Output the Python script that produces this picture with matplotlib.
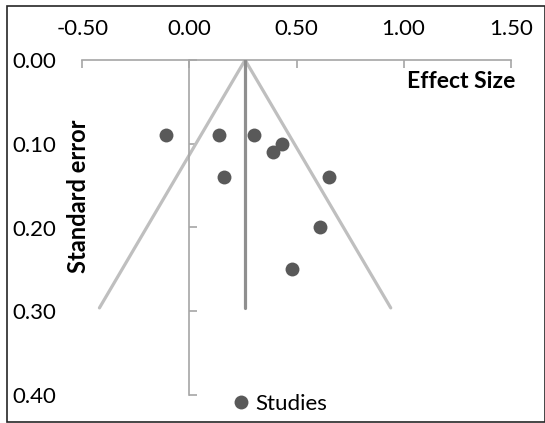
import matplotlib
matplotlib.use("Agg")
import matplotlib.pyplot as plt
from matplotlib.patches import Rectangle

plt.rcParams["font.family"] = ["Lato", "DejaVu Sans"]

# studies: effect size vs standard error
effect = [-0.11, 0.14, 0.30, 0.43, 0.39, 0.16, 0.65, 0.61, 0.48]
se = [0.09, 0.09, 0.09, 0.10, 0.11, 0.14, 0.14, 0.20, 0.25]

# funnel (left bottom, apex, right bottom) and pooled estimate line
funnel_x = [-0.42, 0.26, 0.94]
funnel_se = [0.296, 0.0, 0.296]
mean_x = [0.26, 0.26]
mean_se = [0.0, 0.296]

xticks = [-0.5, 0.0, 0.5, 1.0, 1.5]
yticks = [0.0, 0.1, 0.2, 0.3, 0.4]

AX = "#a6a6a6"
fig = plt.figure(figsize=(5.45, 4.23), dpi=100)
ax = fig.add_axes([82.3 / 545, 1 - 395 / 423, (510.7 - 82.3) / 545, (395 - 60) / 423])
ax.set_xlim(-0.5, 1.5)
ax.set_ylim(0.4, 0.0)

ax.plot(funnel_x, funnel_se, color="#bfbfbf", lw=2.3, solid_capstyle="round", zorder=2)
ax.plot(mean_x, mean_se, color="#8f8f8f", lw=2.3, solid_capstyle="round", zorder=3)
ax.plot(effect, se, "o", ms=10, color="#595959", mec="none", zorder=4, label="Studies")

# x axis along the top
for s in ["bottom", "right"]:
    ax.spines[s].set_visible(False)
ax.spines["top"].set_color(AX)
ax.spines["top"].set_linewidth(1.2)
ax.xaxis.tick_top()
ax.set_xticks(xticks)
ax.set_xticklabels([f"{v:.2f}" for v in xticks])
ax.tick_params(axis="x", direction="in", length=5.8, width=1.2, color=AX, pad=15,
               labelsize=16, labelcolor="#000000")

# y axis line at x = 0, labels on the far left
ax.spines["left"].set_position(("data", 0))
ax.spines["left"].set_color(AX)
ax.spines["left"].set_linewidth(1.2)
ax.set_yticks(yticks)
ax.tick_params(axis="y", direction="in", length=5.8, width=1.2, color=AX, labelleft=False)
sec = ax.secondary_yaxis("left")
sec.spines["left"].set_visible(False)
sec.set_yticks(yticks)
sec.set_yticklabels([f"{v:.2f}" for v in yticks])
sec.tick_params(axis="y", length=0, pad=19, labelsize=16, labelcolor="#000000")

fig.text(515 / 545, 1 - 81 / 423, "Effect Size", ha="right", va="center",
         fontsize=16.5, fontweight="bold")
fig.text(79 / 545, 1 - 196 / 423, "Standard error", ha="center", va="center",
         rotation=90, fontsize=17, fontweight="bold")

fig.legend(loc="center left", bbox_to_anchor=(231.8 / 545, 1 - 404 / 423),
           bbox_transform=fig.transFigure, frameon=False, fontsize=16,
           handlelength=0.8, handletextpad=0.25, borderpad=0, borderaxespad=0)

fig.patches.append(Rectangle((6.5 / 545, 1.5 / 423), 538 / 545, 415 / 423,
                             transform=fig.transFigure, fill=False,
                             edgecolor="#262626", lw=1.2))

fig.savefig("out.png", dpi=100, facecolor="#ffffff")
